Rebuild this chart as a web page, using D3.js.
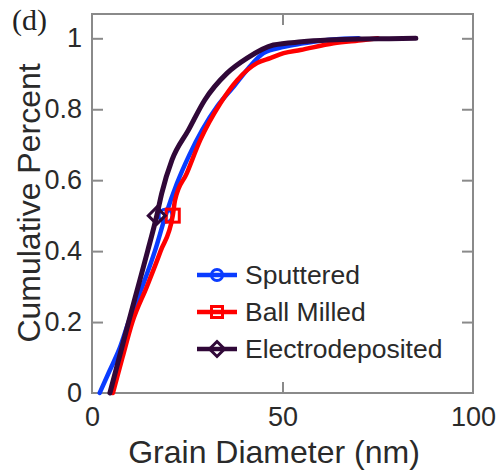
<!DOCTYPE html>
<html>
<head>
<meta charset="utf-8">
<script src="https://cdn.jsdelivr.net/npm/d3@7/dist/d3.min.js"></script>
<style>
  html, body { margin: 0; padding: 0; background: #fff; }
  svg { display: block; }
</style>
</head>
<body>
<svg id="chart" width="496" height="472"></svg>
<script>
// ---- Data ----
const seriesNames = ["Sputtered", "Ball Milled", "Electrodeposited"];

const sputteredDiameter = [2.0, 4.5, 7.4, 9.6, 13.2, 16.5, 19.3, 22.3, 25.5, 28.9, 33, 37.2, 41, 45, 50, 55, 60, 65, 70];
const sputteredCum      = [0, 0.06, 0.13, 0.2, 0.3, 0.4, 0.5, 0.591, 0.67, 0.741, 0.81, 0.864, 0.915, 0.958, 0.975, 0.985, 0.993, 0.998, 1.0];

const ballMilledDiameter = [5.5, 8.0, 10.6, 14.4, 18.0, 21.2, 21.8, 24.9, 28.4, 33.7, 38.1, 43.3, 46.8, 50.3, 54.7, 63.4, 71.3, 75];
const ballMilledCum      = [0, 0.1, 0.2, 0.3, 0.4, 0.5, 0.544, 0.62, 0.713, 0.817, 0.882, 0.93, 0.944, 0.958, 0.967, 0.986, 0.995, 1.0];

const electroDiameter = [4.7, 6.9, 9.6, 12.1, 14.6, 17, 18.3, 21, 25.3, 29.6, 35.4, 40.7, 47.6, 55, 62, 70, 78, 85];
const electroCum      = [0, 0.09, 0.2, 0.3, 0.4, 0.5, 0.563, 0.657, 0.741, 0.826, 0.901, 0.944, 0.981, 0.99, 0.995, 0.998, 0.999, 1.0];

// median marker positions
const medianDiameter = [19.3, 21.2, 17];
const medianCum = [0.5, 0.5, 0.5];

const xTicks = [0, 50, 100];
const yTicks = [0, 0.2, 0.4, 0.6, 0.8, 1];

// ---- Layout ----
const colors = ["#0a3cff", "#ff0000", "#300838"];
const markers = ["circle", "square", "diamond"];
const svg = d3.select("#chart");
const mLeft = 92, mRight = 473, mTop = 14, mBottom = 393;

const x = d3.scaleLinear().domain([0, 100]).range([mLeft, mRight]);
const y = d3.scaleLinear().domain([0, 1.0685]).range([mBottom, mTop]);

const axisColor = "#8a8a8a";
const textColor = "#2a2a2a";
const tickLen = 11;

// ---- Axes (inward ticks, mirrored box) ----
const gx = svg.append("g").attr("transform", `translate(0,${mBottom})`)
  .call(d3.axisBottom(x).tickValues(xTicks).tickSize(-tickLen).tickPadding(14).tickFormat(d3.format("d")));
const gxTop = svg.append("g").attr("transform", `translate(0,${mTop})`)
  .call(d3.axisTop(x).tickValues(xTicks).tickSize(-tickLen).tickFormat(""));
const gy = svg.append("g").attr("transform", `translate(${mLeft},0)`)
  .call(d3.axisLeft(y).tickValues(yTicks).tickSize(-tickLen).tickPadding(10).tickFormat(d => d === 0 || d === 1 ? d3.format("d")(d) : d3.format(".1f")(d)));
const gyRight = svg.append("g").attr("transform", `translate(${mRight},0)`)
  .call(d3.axisRight(y).tickValues(yTicks).tickSize(-tickLen).tickFormat(""));

[gx, gxTop, gy, gyRight].forEach(g => {
  g.select(".domain").remove();
  g.selectAll(".tick line").attr("stroke", axisColor).attr("stroke-width", 2);
  g.selectAll(".tick text").attr("fill", textColor)
    .style("font-family", "'Liberation Sans', Arial, sans-serif").style("font-size", "27px");
});
gx.selectAll(".tick").filter(d => d === 0 || d === 100).select("line").remove();
gxTop.selectAll(".tick").filter(d => d === 0 || d === 100).remove();
gy.selectAll(".tick").filter(d => d === 0).select("line").remove();
gyRight.selectAll(".tick").filter(d => d === 0).remove();

// frame
svg.append("rect").attr("x", mLeft).attr("y", mTop)
  .attr("width", mRight - mLeft).attr("height", mBottom - mTop)
  .attr("fill", "none").attr("stroke", axisColor).attr("stroke-width", 2);

// ---- Curves ----
const line = d3.line().x(d => x(d[0])).y(d => y(d[1])).curve(d3.curveMonotoneX);
const seriesData = [
  d3.zip(sputteredDiameter, sputteredCum),
  d3.zip(ballMilledDiameter, ballMilledCum),
  d3.zip(electroDiameter, electroCum)
];

function drawMarker(g, type, cx, cy, size, color) {
  if (type === "circle") {
    g.append("circle").attr("cx", cx).attr("cy", cy).attr("r", size / 2)
      .attr("fill", "none").attr("stroke", color).attr("stroke-width", 3);
  } else if (type === "square") {
    g.append("rect").attr("x", cx - size / 2).attr("y", cy - size / 2)
      .attr("width", size).attr("height", size)
      .attr("fill", "none").attr("stroke", color).attr("stroke-width", 3);
  } else {
    const h = size / 2 + 2;
    g.append("path").attr("d", `M${cx},${cy - h}L${cx + h},${cy}L${cx},${cy + h}L${cx - h},${cy}Z`)
      .attr("fill", "none").attr("stroke", color).attr("stroke-width", 3);
  }
}

const plot = svg.append("g");
seriesData.forEach((data, i) => {
  plot.append("path").datum(data).attr("d", line)
    .attr("fill", "none").attr("stroke", colors[i]).attr("stroke-width", i === 2 ? 5 : 4.5)
    .attr("stroke-linejoin", "round").attr("stroke-linecap", "round");
  drawMarker(plot, markers[i], x(medianDiameter[i]), y(medianCum[i]), 13, colors[i]);
});

// ---- Legend ----
const legendY = [275, 312, 349];
const legend = svg.append("g");
seriesNames.forEach((name, i) => {
  legend.append("line").attr("x1", 197).attr("x2", 237)
    .attr("y1", legendY[i]).attr("y2", legendY[i])
    .attr("stroke", colors[i]).attr("stroke-width", 4.5);
  drawMarker(legend, markers[i], 217, legendY[i], 11, colors[i]);
  legend.append("text").attr("x", 245).attr("y", legendY[i] + 9)
    .attr("fill", textColor)
    .style("font-family", "'Liberation Sans', Arial, sans-serif").style("font-size", "26.5px")
    .text(name);
});

// ---- Labels ----
svg.append("text").attr("x", 274).attr("y", 463).attr("text-anchor", "middle")
  .attr("fill", textColor)
  .style("font-family", "'Liberation Sans', Arial, sans-serif").style("font-size", "32px")
  .text("Grain Diameter (nm)");

svg.append("text").attr("transform", "translate(40,203) rotate(-90)").attr("text-anchor", "middle")
  .attr("fill", textColor)
  .style("font-family", "'Liberation Sans', Arial, sans-serif").style("font-size", "32px")
  .text("Cumulative Percent");

svg.append("text").attr("x", 12).attr("y", 30)
  .attr("fill", "#222")
  .style("font-family", "'Liberation Serif', 'Times New Roman', serif").style("font-size", "30px")
  .text("(d)");
</script>
</body>
</html>
